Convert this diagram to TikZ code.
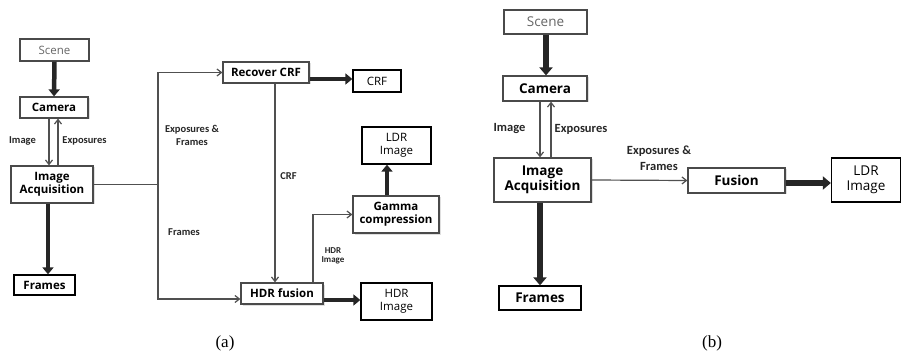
\documentclass[tikz,border=0pt]{standalone}
\usepackage{fontspec}
\setmainfont{Open Sans}
\newfontfamily\lblfont{Carlito}
\newfontfamily\capfont{Liberation Serif}
\usetikzlibrary{arrows.meta,shadows,calc}
\definecolor{boxgray}{HTML}{4A4A4A}
\definecolor{linegray}{HTML}{505050}
\tikzset{
  box/.style={draw=boxgray, line width=1.2pt, fill=white, inner sep=0pt, align=center,
    drop shadow={opacity=0.25, shadow xshift=1.5pt, shadow yshift=-1.5pt}},
  outbox/.style={draw=black, line width=1.3pt, fill=white, inner sep=0pt, align=center},
  scenebox/.style={draw=boxgray, line width=1.2pt, fill=white, inner sep=0pt, align=center, text=black!60},
  thin/.style={draw=linegray, line width=1.2pt, -{Straight Barb[length=4.5pt,width=7pt]}},
  plain/.style={draw=linegray, line width=1.2pt},
  thick/.style={draw=black!85, line width=4.5pt, -{Triangle[length=7pt,width=11pt]}},
  thickb/.style={draw=black!85, line width=5.5pt, -{Triangle[length=8pt,width=13pt]}},
  lbla/.style={font=\lblfont\bfseries\fontsize{10.5}{12}\selectfont, text=black!85, align=center, inner sep=0pt},
  lblb/.style={font=\lblfont\bfseries\fontsize{12.5}{15}\selectfont, text=black!85, align=center, inner sep=0pt},
  fa/.style={font=\fontsize{11.5}{14}\selectfont},
  fab/.style={font=\bfseries\fontsize{11.5}{14}\selectfont},
  fb/.style={font=\fontsize{13.5}{16}\selectfont},
  fbb/.style={font=\bfseries\fontsize{13.5}{16}\selectfont},
}
\begin{document}
\begin{tikzpicture}[x=1pt,y=-1pt]
\useasboundingbox (0,0) rectangle (902,358);
% ---------- panel (a)
\node[scenebox, fa, minimum width=69pt, minimum height=22pt] (aScene) at (54.5,50) {Scene};
\node[box, fab, minimum width=68pt, minimum height=21pt] (aCam) at (54,107.5) {Camera};
\node[box, fab, minimum width=82pt, minimum height=37pt] (aIA) at (52,184.5) {Image\\[-1pt]Acquisition};
\node[outbox, fab, minimum width=61pt, minimum height=20pt] (aFr) at (44.5,285) {Frames};
\node[box, fab, minimum width=86pt, minimum height=21pt] (rec) at (266,72.5) {Recover CRF};
\node[outbox, fa, minimum width=48pt, minimum height=22pt] (crf) at (377,81) {CRF};
\node[outbox, fa, minimum width=69pt, minimum height=37pt] (aLDR) at (396.5,145.5) {LDR\\[-1pt]Image};
\node[box, fab, minimum width=86pt, minimum height=37pt] (gam) at (396,214.5) {Gamma\\[-1pt]compression};
\node[box, fab, minimum width=82pt, minimum height=21pt] (hdrf) at (282,293.5) {HDR fusion};
\node[outbox, fa, minimum width=71pt, minimum height=37pt] (hdri) at (396.5,301.5) {HDR\\[-1pt]Image};
\coordinate (j) at (158,184.5);
\coordinate (jt) at (158,72.5);
\coordinate (jb) at (158,299);

\draw[thick] (aScene.south) -- (aCam.north);
\draw[thin] (aCam.south -| 49,0) -- (aIA.north -| 49,0);
\draw[thin] (aIA.north -| 58,0) -- (aCam.south -| 58,0);
\draw[thick] (aIA.south -| 48,0) -- (aFr.north -| 48,0);
\draw[plain] (aIA.east) -- (j);
\draw[thin] (j) -- (jt) -- (rec.west);
\draw[thin] (j) -- (jb) -- (hdrf.west |- jb);
\draw[thick] (rec.east |- 0,79) -- (crf.west |- 0,79);
\draw[thin] (rec.south -| 275,0) -- (hdrf.north -| 275,0);
\draw[thin] (hdrf.north -| 313,0) -- (313,214.5) -- (gam.west);
\draw[thick] (gam.north -| 387,0) -- (aLDR.south -| 387,0);
\draw[thick] (hdrf.east |- 0,300) -- (hdri.west |- 0,300);

\node[lbla] (lImg) at (22.5,141) {Image};
\node[lbla] (lExp) at (84.5,141) {Exposures};
\node[lbla] (lEF) at (192,135.5) {Exposures \&\\[1pt]Frames};
\node[lbla] (lFr) at (184,232) {Frames};
\node[lbla] (lCRF) at (288.5,176) {CRF};
\node[lbla, font=\lblfont\bfseries\fontsize{9}{9.5}\selectfont] (lHDR) at (333,256) {HDR\\Image};

% ---------- panel (b)
\node[scenebox, fb, minimum width=83pt, minimum height=24pt] (bScene) at (545.5,22) {Scene};
\node[box, fbb, minimum width=84pt, minimum height=25pt] (bCam) at (545,88.5) {Camera};
\node[box, fbb, minimum width=97pt, minimum height=44pt] (bIA) at (542.5,180) {Image\\[-1pt]Acquisition};
\node[outbox, fbb, minimum width=82pt, minimum height=24pt] (bFr) at (540,298) {Frames};
\node[box, fbb, minimum width=97pt, minimum height=25pt] (fus) at (736.5,180.5) {Fusion};
\node[outbox, fb, minimum width=69pt, minimum height=44pt] (bLDR) at (866,180) {LDR\\[-1pt]Image};

\draw[thickb] (bScene.south -| 546,0) -- (bCam.north -| 546,0);
\draw[thin] (bCam.south -| 540,0) -- (bIA.north -| 540,0);
\draw[thin] (bIA.north -| 551,0) -- (bCam.south -| 551,0);
\draw[thickb] (bIA.south -| 540,0) -- (bFr.north -| 540,0);
\draw[thin] (bIA.east) -- (fus.west);
\draw[thickb] (fus.east |- 0,183) -- (bLDR.west |- 0,183);

\node[lblb] (bImg) at (509.5,129) {Image};
\node[lblb] (bExp) at (581,129) {Exposures};
\node[lblb] (bEF) at (659,158) {Exposures \&\\[1pt]Frames};

% captions
\node[font=\capfont\fontsize{17}{19}\selectfont, inner sep=0pt] (capa) at (225,343) {(a)};
\node[font=\capfont\fontsize{17}{19}\selectfont, inner sep=0pt] (capb) at (712,343) {(b)};
\end{tikzpicture}
\end{document}
